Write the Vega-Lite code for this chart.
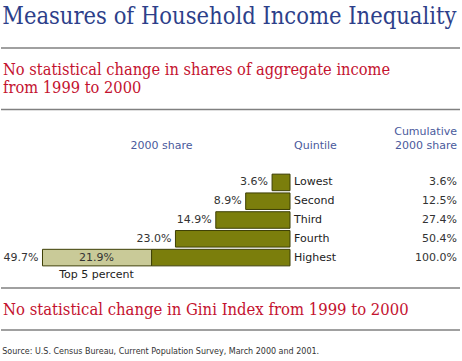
{
  "$schema": "https://vega.github.io/schema/vega-lite/v6.json",
  "padding": {"top": 4, "left": 0, "right": 0, "bottom": 0},
  "background": "white",
  "config": {
    "view": {"stroke": null},
    "concat": {"spacing": 0},
    "font": "DejaVu Sans"
  },
  "title": {
    "text": "Measures of Household Income Inequality",
    "anchor": "start",
    "font": "DejaVu Serif Condensed, DejaVu Serif",
    "fontSize": 23.5,
    "fontWeight": "normal",
    "color": "#2d3f8a",
    "offset": 19,
    "dx": 2
  },
  "datasets": {
    "header": [{"t": "No statistical change in shares of aggregate income\nfrom 1999 to 2000"}],
    "footer": [{"t": "No statistical change in Gini Index from 1999 to 2000"}],
    "quintiles": [
      {"quintile": "Lowest", "share": 0.036, "cumulative": 0.036},
      {"quintile": "Second", "share": 0.089, "cumulative": 0.125},
      {"quintile": "Third", "share": 0.149, "cumulative": 0.274},
      {"quintile": "Fourth", "share": 0.230, "cumulative": 0.504},
      {"quintile": "Highest", "share": 0.497, "cumulative": 1.000}
    ],
    "segments": [
      {"quintile": "Lowest", "part": "Quintile", "rank": 1, "share": 0.036},
      {"quintile": "Second", "part": "Quintile", "rank": 1, "share": 0.089},
      {"quintile": "Third", "part": "Quintile", "rank": 1, "share": 0.149},
      {"quintile": "Fourth", "part": "Quintile", "rank": 1, "share": 0.230},
      {"quintile": "Highest", "part": "Quintile", "rank": 1, "share": 0.278},
      {"quintile": "Highest", "part": "Top 5 percent", "rank": 2, "share": 0.219}
    ]
  },
  "vconcat": [
    {
      "width": 459,
      "height": 78,
      "data": {"name": "header"},
      "layer": [
        {
          "mark": {"type": "rule", "color": "#808080", "strokeWidth": 1.5},
          "encoding": {"y": {"datum": 0, "type": "quantitative", "scale": {"domain": [0, 78], "reverse": true}, "axis": null}}
        },
        {
          "mark": {"type": "rule", "color": "#808080", "strokeWidth": 1.5},
          "encoding": {"y": {"datum": 63, "type": "quantitative"}}
        },
        {
          "mark": {"type": "text", "align": "left", "baseline": "alphabetic", "font": "DejaVu Serif Condensed, DejaVu Serif", "fontSize": 16.3, "color": "#c4122f", "lineHeight": 18, "lineBreak": "\n", "dx": 2},
          "encoding": {
            "text": {"field": "t"},
            "x": {"datum": 0, "type": "quantitative", "scale": {"domain": [0, 1]}, "axis": null},
            "y": {"datum": 28, "type": "quantitative"}
          }
        }
      ]
    },
    {
      "bounds": "flush",
      "hconcat": [
        {
          "width": 289,
          "height": 94,
          "title": {"text": ["", "2000 share"], "anchor": "middle", "dx": 16, "font": "DejaVu Sans", "fontSize": 11, "fontWeight": "normal", "color": "#4a5a9c", "lineHeight": 14, "offset": 22},
          "data": {"name": "segments"},
          "encoding": {
            "y": {"field": "quintile", "type": "nominal", "sort": ["Lowest", "Second", "Third", "Fourth", "Highest"], "scale": {"paddingInner": 0.12, "paddingOuter": 0.06}, "axis": null}
          },
          "layer": [
            {
              "mark": {"type": "bar", "stroke": "#3d3f05", "strokeWidth": 1},
              "encoding": {
                "x": {"field": "share", "type": "quantitative", "stack": "zero", "scale": {"domain": [0, 0.5803], "reverse": true, "nice": false}, "axis": null},
                "color": {"field": "part", "type": "nominal", "scale": {"domain": ["Quintile", "Top 5 percent"], "range": ["#7b7e0c", "#c9ca98"]}, "legend": null},
                "order": {"field": "rank", "type": "quantitative"}
              }
            },
            {
              "data": {"name": "quintiles"},
              "mark": {"type": "text", "align": "right", "baseline": "middle", "dx": -4, "fontSize": 11, "color": "#333333"},
              "encoding": {
                "x": {"field": "share", "type": "quantitative"},
                "text": {"field": "share", "type": "quantitative", "format": ".1%"}
              }
            },
            {
              "mark": {"type": "text", "align": "center", "baseline": "middle", "dx": 54, "fontSize": 11, "color": "#333333"},
              "encoding": {
                "x": {"field": "share", "type": "quantitative", "stack": "zero"},
                "order": {"field": "rank", "type": "quantitative"},
                "text": {"condition": {"test": "datum.part == 'Top 5 percent'", "field": "share", "type": "quantitative", "format": ".1%"}, "value": ""}
              }
            },
            {
              "mark": {"type": "text", "align": "center", "baseline": "alphabetic", "dx": 54, "dy": 20, "fontSize": 11, "color": "#222222"},
              "encoding": {
                "x": {"field": "share", "type": "quantitative", "stack": "zero"},
                "order": {"field": "rank", "type": "quantitative"},
                "text": {"condition": {"test": "datum.part == 'Top 5 percent'", "field": "part", "type": "nominal"}, "value": ""}
              }
            }
          ]
        },
        {
          "width": 90,
          "height": 94,
          "data": {"name": "quintiles"},
          "title": {"text": ["", "Quintile"], "anchor": "start", "dx": 4, "font": "DejaVu Sans", "fontSize": 11, "fontWeight": "normal", "color": "#4a5a9c", "lineHeight": 14, "offset": 22},
          "mark": {"type": "text", "align": "left", "baseline": "middle", "dx": 4, "fontSize": 11, "color": "#222222"},
          "encoding": {
            "y": {"field": "quintile", "type": "nominal", "sort": ["Lowest", "Second", "Third", "Fourth", "Highest"], "scale": {"paddingInner": 0.12, "paddingOuter": 0.06}, "axis": null},
            "x": {"datum": 0, "type": "quantitative", "scale": {"domain": [0, 1]}, "axis": null},
            "text": {"field": "quintile", "type": "nominal"}
          }
        },
        {
          "width": 80,
          "height": 94,
          "data": {"name": "quintiles"},
          "title": {"text": ["Cumulative", "2000 share"], "anchor": "end", "dx": -3, "font": "DejaVu Sans", "fontSize": 11, "fontWeight": "normal", "color": "#4a5a9c", "lineHeight": 14, "offset": 22},
          "mark": {"type": "text", "align": "right", "baseline": "middle", "dx": -3, "fontSize": 11, "color": "#333333"},
          "encoding": {
            "y": {"field": "quintile", "type": "nominal", "sort": ["Lowest", "Second", "Third", "Fourth", "Highest"], "scale": {"paddingInner": 0.12, "paddingOuter": 0.06}, "axis": null},
            "x": {"datum": 1, "type": "quantitative", "scale": {"domain": [0, 1]}, "axis": null},
            "text": {"field": "cumulative", "type": "quantitative", "format": ".1%"}
          }
        }
      ]
    },
    {
      "width": 459,
      "height": 55,
      "data": {"name": "footer"},
      "title": {"text": "Source:  U.S. Census Bureau, Current Population Survey, March 2000 and 2001.", "orient": "bottom", "anchor": "start", "dx": 2, "font": "DejaVu Sans", "fontSize": 8, "fontWeight": "normal", "color": "#333333", "offset": 13},
      "layer": [
        {
          "mark": {"type": "rule", "color": "#808080", "strokeWidth": 1.5},
          "encoding": {"y": {"datum": 8, "type": "quantitative", "scale": {"domain": [0, 55], "reverse": true}, "axis": null}}
        },
        {
          "mark": {"type": "rule", "color": "#808080", "strokeWidth": 1.5},
          "encoding": {"y": {"datum": 50, "type": "quantitative"}}
        },
        {
          "mark": {"type": "text", "align": "left", "baseline": "alphabetic", "font": "DejaVu Serif Condensed, DejaVu Serif", "fontSize": 16.5, "color": "#c4122f", "dx": 2},
          "encoding": {
            "text": {"field": "t"},
            "x": {"datum": 0, "type": "quantitative", "scale": {"domain": [0, 1]}, "axis": null},
            "y": {"datum": 35, "type": "quantitative"}
          }
        }
      ]
    }
  ]
}
